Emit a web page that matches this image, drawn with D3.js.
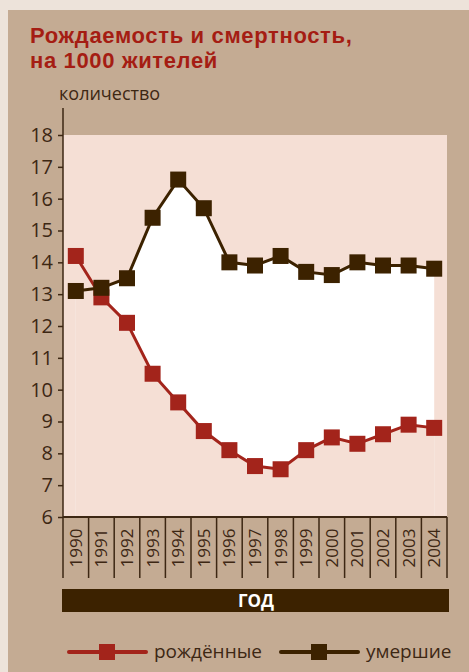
<!DOCTYPE html>
<html><head><meta charset="utf-8">
<script src="https://cdn.jsdelivr.net/npm/d3@7"></script>
<style>body{margin:0;background:#ede3da;}svg{display:block;}</style>
</head><body>
<svg id="c" width="469" height="672"></svg>
<script>
const years = ["1990","1991","1992","1993","1994","1995","1996","1997","1998","1999","2000","2001","2002","2003","2004"];
const births = [14.2,12.9,12.1,10.5,9.6,8.7,8.1,7.6,7.5,8.1,8.5,8.3,8.6,8.9,8.8];
const deaths = [13.1,13.2,13.5,15.4,16.6,15.7,14.0,13.9,14.2,13.7,13.6,14.0,13.9,13.9,13.8];
const yTicks = [6,7,8,9,10,11,12,13,14,15,16,17,18];

const RED="#a3241b", DARK="#3c2200", PINK="#f5dfd5", PANEL="#c4ab93", TXT="#3d2713";
const FONT="'Open Sans', sans-serif";
const svg=d3.select("#c");
svg.append("rect").attr("x",8).attr("y",10).attr("width",461).attr("height",662).attr("fill",PANEL);

const L=63,R=447,T=135,B=517;
const x=d3.scaleBand().domain(years).range([L,R]);
const y=d3.scaleLinear().domain([6,18]).range([B,T]);
const cx=d=>x(d)+x.bandwidth()/2;

svg.append("rect").attr("x",L).attr("y",T).attr("width",R-L).attr("height",B-T).attr("fill",PINK);

const idx=d3.range(years.length);
svg.append("path").attr("fill","#fff")
  .attr("d",d3.area().x(i=>cx(years[i])).y0(B).y1(i=>y(deaths[i]))(idx));
svg.append("path").attr("fill",PINK)
  .attr("d",d3.area().x(i=>cx(years[i])).y0(B).y1(i=>y(births[i]))(idx));

// title
const TFONT="'Liberation Sans', Arial, sans-serif";
svg.append("text").attr("x",30).attr("y",43).attr("fill","#a51d13").attr("font-family",TFONT)
  .attr("font-weight","bold").attr("font-size",22).attr("letter-spacing",0.65).text("Рождаемость и смертность,");
svg.append("text").attr("x",30).attr("y",68).attr("fill","#a51d13").attr("font-family",TFONT)
  .attr("font-weight","bold").attr("font-size",22).attr("letter-spacing",0.65).text("на 1000 жителей");
svg.append("text").attr("x",59).attr("y",100).attr("fill",TXT).attr("font-family",FONT)
  .attr("font-size",18).text("количество");

// y axis
const ya=svg.append("g").attr("transform",`translate(${L},0)`)
  .call(d3.axisLeft(y).tickValues(yTicks).tickSize(5).tickPadding(5).tickFormat(d3.format("d")));
ya.select(".domain").remove();
ya.selectAll(".tick line").attr("stroke",TXT).attr("stroke-width",1.5);
ya.selectAll(".tick text").attr("fill",TXT).attr("font-family",FONT).attr("font-size",20);
svg.append("line").attr("x1",L).attr("x2",L).attr("y1",108).attr("y2",578).attr("stroke",TXT).attr("stroke-width",1.5);

// x axis cells
const XB=578;
svg.append("line").attr("x1",L).attr("x2",R).attr("y1",B).attr("y2",B).attr("stroke",TXT).attr("stroke-width",2);
const xa=svg.append("g").attr("transform",`translate(0,${B})`)
  .call(d3.axisBottom(x).tickSize(0).tickPadding(0));
xa.select(".domain").remove();
xa.selectAll(".tick text").attr("transform","translate(0,31) rotate(-90)")
  .attr("dy","0.35em").attr("y",0).attr("text-anchor","middle")
  .attr("fill",TXT).attr("font-family",FONT).attr("font-size",17);
years.forEach(yr=>{
  svg.append("line").attr("x1",x(yr)+x.bandwidth()).attr("x2",x(yr)+x.bandwidth())
    .attr("y1",B).attr("y2",XB).attr("stroke",TXT).attr("stroke-width",1.5);
});

// ГОД bar
svg.append("rect").attr("x",62).attr("y",589).attr("width",387).attr("height",23).attr("fill",DARK);
svg.append("text").attr("x",256).attr("y",607).attr("text-anchor","middle").attr("fill","#fff")
  .attr("font-family",FONT).attr("font-weight","bold").attr("font-size",17).text("ГОД");

// lines
function series(vals,color){
  svg.append("path").attr("fill","none").attr("stroke",color).attr("stroke-width",3)
    .attr("d",d3.line().x((d,i)=>cx(years[i])).y(d=>y(d))(vals));
  svg.append("g").selectAll("rect").data(vals).join("rect")
    .attr("x",(d,i)=>cx(years[i])-8).attr("y",d=>y(d)-8).attr("width",16).attr("height",16).attr("fill",color);
}
series(births,RED);
series(deaths,DARK);

// legend
function leg(x0,color,label){
  svg.append("line").attr("x1",x0).attr("x2",x0+77).attr("y1",652).attr("y2",652)
    .attr("stroke",color).attr("stroke-width",4).attr("stroke-linecap","round");
  svg.append("rect").attr("x",x0+30).attr("y",644).attr("width",16).attr("height",16).attr("fill",color);
  svg.append("text").attr("x",x0+85).attr("y",658).attr("fill",TXT).attr("font-family",FONT)
    .attr("font-size",19).text(label);
}
leg(69,RED,"рождённые");
leg(281,DARK,"умершие");
</script>
</body></html>
